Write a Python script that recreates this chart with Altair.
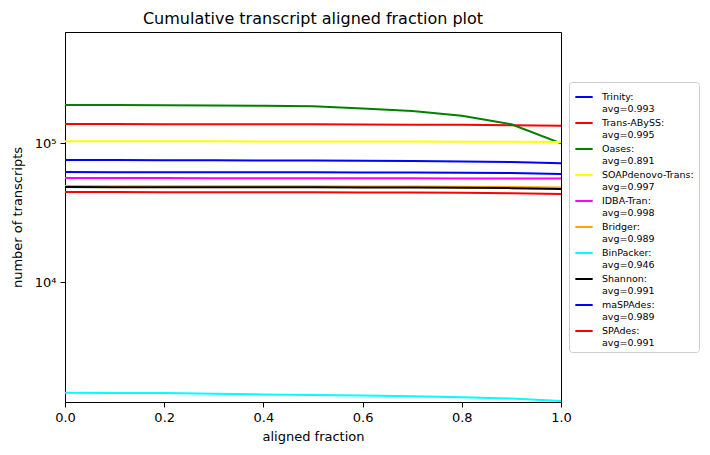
import altair as alt
import pandas as pd

fractions = [0.0, 0.1, 0.2, 0.3, 0.4, 0.5, 0.6, 0.7, 0.8, 0.9, 1.0]

names = ["Trinity", "Trans-ABySS", "Oases", "SOAPdenovo-Trans", "IDBA-Tran",
         "Bridger", "BinPacker", "Shannon", "maSPAdes", "SPAdes"]
avgs = ["0.993", "0.995", "0.891", "0.997", "0.998",
        "0.989", "0.946", "0.991", "0.989", "0.991"]
colors = ["#0000ff", "#ff0000", "#008000", "#ffff00", "#ff00ff",
          "#ffa500", "#00ffff", "#000000", "#0000ff", "#ff0000"]

trinity = [75500, 75400, 75300, 75200, 75000, 74800, 74500, 74200, 73800, 73000, 71600]
trans_abyss = [137000, 136900, 136800, 136700, 136500, 136300, 136000, 135700, 135300, 134500, 133000]
oases = [187700, 187500, 187200, 186500, 185500, 184000, 177500, 170000, 157000, 136400, 99500]
soap = [103000, 102950, 102900, 102850, 102800, 102700, 102600, 102500, 102300, 102100, 101700]
idba = [56000, 55980, 55950, 55920, 55900, 55850, 55800, 55750, 55700, 55650, 55500]
bridger = [49000, 48980, 48950, 48900, 48850, 48800, 48700, 48600, 48450, 48250, 47800]
binpacker = [1596, 1593, 1590, 1572, 1553, 1540, 1527, 1506, 1485, 1450, 1395]
shannon = [48200, 48180, 48150, 48100, 48050, 48000, 47900, 47800, 47650, 47400, 46700]
maspades = [61800, 61780, 61750, 61700, 61650, 61600, 61500, 61400, 61200, 60900, 59800]
spades = [44400, 44380, 44350, 44300, 44250, 44200, 44100, 44000, 43850, 43600, 43000]

series = [trinity, trans_abyss, oases, soap, idba, bridger, binpacker, shannon, maspades, spades]

labels = [f"{n}:\navg={a}" for n, a in zip(names, avgs)]

rows = []
for i, (lab, vals) in enumerate(zip(labels, series)):
    for x, v in zip(fractions, vals):
        rows.append({"fraction": x, "count": v, "series": lab, "order": i})
df = pd.DataFrame(rows)

font = "DejaVu Sans"

chart = alt.Chart(df).mark_line(strokeWidth=2, clip=True).encode(
    x=alt.X("fraction:Q", title="aligned fraction",
            scale=alt.Scale(domain=[0, 1], nice=False, zero=False),
            axis=alt.Axis(values=[0, 0.2, 0.4, 0.6, 0.8, 1.0], format=".1f",
                          grid=False, tickSize=5, labelPadding=4,
                          labelFlush=False, titlePadding=6)),
    y=alt.Y("count:Q", title="number of transcripts",
            scale=alt.Scale(type="log", domain=[1371, 629600], nice=False),
            axis=alt.Axis(values=[10000, 100000],
                          labelExpr="datum.value == 10000 ? '10⁴' : '10⁵'",
                          grid=False, tickSize=5, labelPadding=4,
                          labelFlush=False, titlePadding=10)),
    color=alt.Color("series:N", title=None,
                    scale=alt.Scale(domain=labels, range=colors),
                    legend=alt.Legend(orient="none", legendX=504, legendY=50,
                                      symbolType="stroke", symbolStrokeWidth=2,
                                      symbolSize=300,
                                      labelExpr="split(datum.label, '\\n')",
                                      labelFontSize=9.5, labelFont=font,
                                      labelColor="#000000", labelLimit=200,
                                      labelOffset=8,
                                      rowPadding=0,
                                      strokeColor="#cccccc", fillColor="white",
                                      cornerRadius=3, padding=5)),
    detail="order:O",
    order="order:O",
).properties(
    width=496, height=370,
    title=alt.Title("Cumulative transcript aligned fraction plot",
                    fontSize=16, font=font, fontWeight="normal",
                    color="#000000", offset=5),
    autosize=alt.AutoSizeParams(type="none"),
    padding={"left": 57, "top": 24, "right": 140, "bottom": 45},
).configure_view(
    stroke="black", strokeWidth=1
).configure_axis(
    domainColor="black", tickColor="black", labelColor="black",
    titleColor="black", labelFont=font, titleFont=font,
    labelFontSize=13, titleFontSize=13, titleFontWeight="normal"
)

chart.save("out.html", embed_options={"renderer": "svg", "actions": False})
